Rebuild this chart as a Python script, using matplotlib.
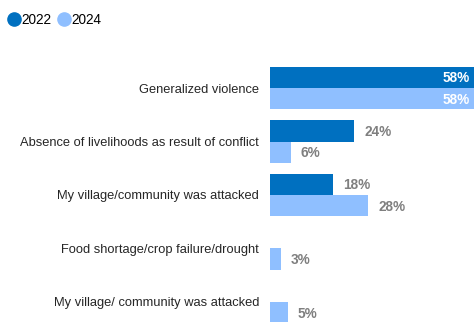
import numpy as np
import matplotlib.pyplot as plt
from matplotlib.lines import Line2D

plt.rcParams['font.family'] = ['Liberation Sans', 'DejaVu Sans']

categories = [
    "Generalized violence",
    "Absence of livelihoods as result of conflict",
    "My village/community was attacked",
    "Food shortage/crop failure/drought",
    "My village/ community was attacked",
]
vals_2022 = [58, 24, 18, 0, 0]
vals_2024 = [58, 6, 28, 3, 5]
years = ["2022", "2024"]

DARK = "#0070C0"
LIGHT = "#8FBFFF"
LABEL_GRAY = "#7F7F7F"

fig = plt.figure(figsize=(4.74, 3.22), dpi=100)
ax = fig.add_axes([270 / 474, 0, 204 / 474, 267 / 322])

y = np.arange(len(categories))
h = 0.4
ax.barh(y - h / 2, vals_2022, height=h, color=DARK)
ax.barh(y + h / 2, vals_2024, height=h, color=LIGHT)

ax.set_xlim(0, 58)
ax.set_ylim(4.374, -0.617)

# value labels: inside in white for the long bars, grey outside otherwise
for series, off in ((vals_2022, -h / 2), (vals_2024, h / 2)):
    for i, v in enumerate(series):
        if v <= 0:
            continue
        if v >= 50:
            ax.text(v - 1.2, i + off + 0.02, f"{v}%", ha="right", va="center",
                    color="white", fontsize=9.8, fontweight="bold")
        else:
            ax.text(v + 2.8, i + off + 0.02, f"{v}%", ha="left", va="center",
                    color=LABEL_GRAY, fontsize=9.8, fontweight="bold")

ax.set_yticks(y)
ax.set_yticklabels(categories, fontsize=9.3, color="#262626")
ax.tick_params(axis="y", length=0, pad=8)
ax.set_xticks([])
for s in ax.spines.values():
    s.set_visible(False)

handles = [
    Line2D([], [], marker="o", linestyle="", color=DARK, markersize=9.5),
    Line2D([], [], marker="o", linestyle="", color=LIGHT, markersize=9.5),
]
fig.legend(handles, years, loc="upper left", bbox_to_anchor=(-0.004, 0.99),
           ncol=2, frameon=False, fontsize=9.8, handlelength=0.9,
           handletextpad=0.1, columnspacing=0.5, borderaxespad=0.3)

fig.savefig("out.png", dpi=100)
